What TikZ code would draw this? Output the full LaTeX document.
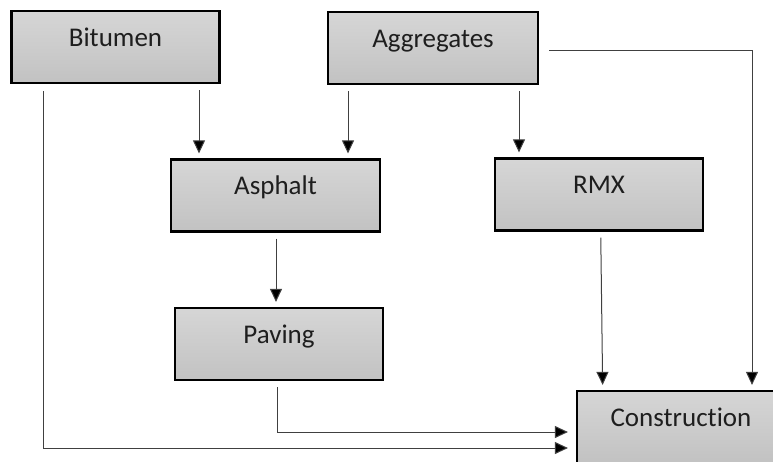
\documentclass[tikz,border=0pt]{standalone}
\usepackage{fontspec}
\setmainfont{Carlito}[RawFeature={-liga}]
\usetikzlibrary{arrows.meta}
\definecolor{topc}{RGB}{214,214,214}
\definecolor{botc}{RGB}{194,194,194}
\definecolor{linec}{RGB}{64,64,64}
\definecolor{txtc}{RGB}{30,30,30}
\tikzset{
  box/.style={draw=black, line width=2.2pt, top color=topc, bottom color=botc,
    rectangle, inner xsep=0pt, inner ysep=0pt, text height=35pt, text depth=37pt,
    minimum width=208pt, text=txtc, font=\fontsize{27}{32}\selectfont},
  arr/.style={draw=linec, line width=1pt, -{Triangle[width=12pt,length=13pt,fill=black]},
    shorten <=6pt, shorten >=5pt},
}
\begin{document}
\begin{tikzpicture}[x=1pt,y=-1pt]
\useasboundingbox (0,0) rectangle (773,461);
\clip (0,0) rectangle (773,461);
\node[box] (bit) at (115.5,47) {Bitumen};
\node[box, minimum width=210pt] (agg) at (433,48) {Aggregates};
\node[box, minimum width=209pt] (asp) at (275.5,195.5) {Asphalt};
\node[box] (rmx) at (599,194.5) {RMX};
\node[box] (pav) at (279,344) {Paving};
\node[box] (con) at (681,427) {Construction};

\draw[arr] ([xshift=83.5pt]bit.south) -- ([xshift=83.5pt]bit.south |- asp.north);
\draw[arr] ([xshift=-85pt]agg.south) -- ([xshift=-85pt]agg.south |- asp.north);
\draw[arr] ([xshift=86pt]agg.south) -- ([xshift=86pt]agg.south |- rmx.north);
\draw[arr] ([xshift=0.5pt]asp.south) -- ([xshift=0.5pt]asp.south |- pav.north);
\draw[arr] ([xshift=1.7pt]rmx.south) -- ([xshift=-78.3pt]con.north);
\draw[arr, shorten <=0pt] ([xshift=10pt,yshift=-2pt]agg.east) -| ([xshift=71pt]con.north);
\draw[arr, shorten <=7pt, shorten >=8pt] ([xshift=33pt]bit.south west) |- ([yshift=-21pt]con.west);
\draw[arr, shorten >=8pt] ([xshift=-2pt]pav.south) |- ([yshift=-5pt]con.west);
\end{tikzpicture}
\end{document}
